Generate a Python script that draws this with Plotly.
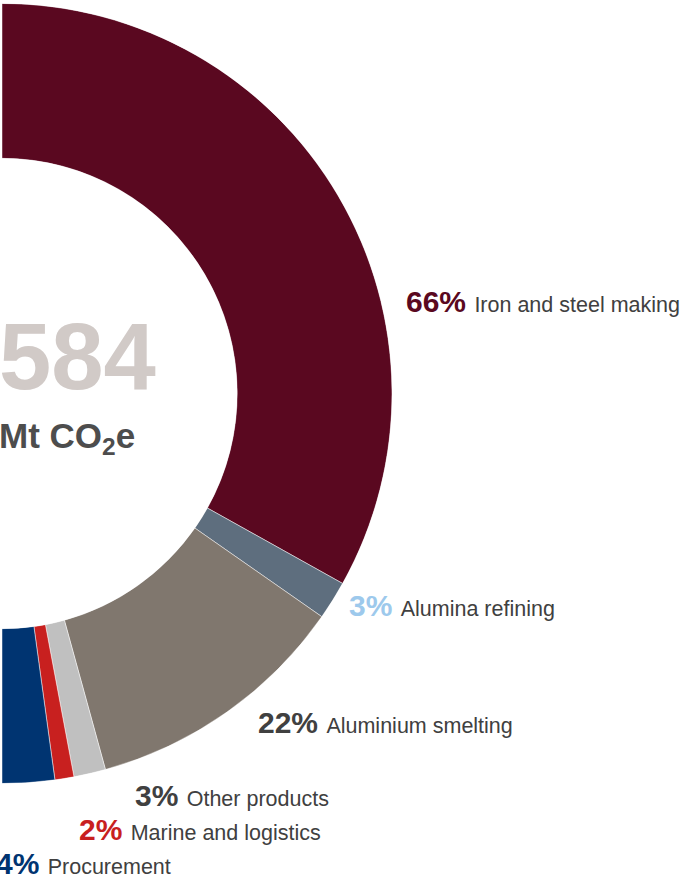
import plotly.graph_objects as go

# Scope 3 emissions by category, Mt CO2e
categories = [
    "Iron and steel making",
    "Alumina refining",
    "Aluminium smelting",
    "Other products",
    "Marine and logistics",
    "Procurement",
]
emissions_mt = [386.5, 18.7, 128.8, 15.4, 9.2, 25.3]

slice_colors = ["#5A0820", "#5E6E7E", "#80776E", "#C0C0C0", "#C8201F", "#003471"]
pct_colors = ["#5A0820", "#9DC9EC", "#404040", "#404040", "#C8201F", "#003471"]

W, H = 682, 878
FONT = "Liberation Sans, Arial, sans-serif"

total = sum(emissions_mt)
# the whole total spans a half circle (right side), clockwise from the top
spans = [v / total * 180.0 for v in emissions_mt]
centers = []
acc = 0.0
for s in spans:
    centers.append(acc + s / 2)
    acc += s

fig = go.Figure(
    go.Barpolar(
        r=[1] * len(categories),
        theta=centers,
        width=spans,
        marker=dict(color=slice_colors, line=dict(color="rgba(255,255,255,0.8)", width=0.6)),
        hoverinfo="skip",
    )
)

# donut geometry in pixels
cx, cy, R = 2, 393.5, 390
fig.update_layout(
    width=W,
    height=H,
    margin=dict(l=0, r=0, t=0, b=0),
    paper_bgcolor="white",
    plot_bgcolor="white",
    showlegend=False,
    polar=dict(
        domain=dict(x=[cx / W, (cx + R) / W], y=[(H - cy - R) / H, (H - cy + R) / H]),
        sector=[-90, 90],
        hole=0.603,
        bgcolor="white",
        bargap=0,
        radialaxis=dict(visible=False, range=[0, 1]),
        angularaxis=dict(visible=False, rotation=90, direction="clockwise"),
    ),
)

# label anchors (left edge of percentage, vertical middle of caps), pixels
label_xy = [(406, 301), (349, 605), (258, 722), (135, 795), (79, 829), (-4, 863)]

for name, v, pc, (lx, ly) in zip(categories, emissions_mt, pct_colors, label_xy):
    pct = round(v / total * 100)
    fig.add_annotation(
        x=lx / W, y=1 - ly / H, xref="paper", yref="paper",
        xanchor="left", yanchor="middle", showarrow=False,
        borderpad=0, borderwidth=0,
        text=f"<b><span style='color:{pc};font-size:30px'>{pct}% </span></b>{name}",
        font=dict(family=FONT, size=21.5, color="#404040"),
    )

fig.add_annotation(
    x=-2 / W, y=1 - 356 / H, xref="paper", yref="paper",
    xanchor="left", yanchor="middle", showarrow=False, borderpad=0,
    text=f"{round(total)}",
    font=dict(family=FONT, size=94, color="#D1CAC7", weight="bold"),
)
fig.add_annotation(
    x=-2 / W, y=1 - 438 / H, xref="paper", yref="paper",
    xanchor="left", yanchor="middle", showarrow=False, borderpad=0,
    text="Mt CO<sub>2</sub>e",
    font=dict(family=FONT, size=35, color="#4D4D4D", weight="bold"),
)

fig.write_html("out.html")
